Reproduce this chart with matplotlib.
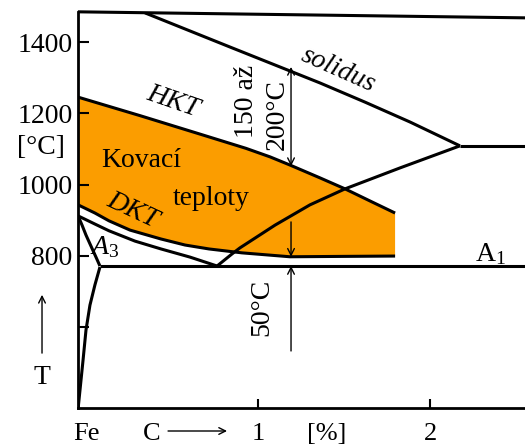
import numpy as np
import matplotlib
matplotlib.use("Agg")
import matplotlib.pyplot as plt

plt.rcParams['font.family'] = ['Liberation Serif', 'DejaVu Serif']
plt.rcParams['mathtext.fontset'] = 'custom'
plt.rcParams['mathtext.rm'] = 'Liberation Serif'
plt.rcParams['mathtext.it'] = 'Liberation Serif:italic'

# ---- data (carbon %, temperature °C) ----
top_x = [-0.047, 2.56]
top_t = [1486, 1469]

solidus_x = [0.343, 0.837, 1.360, 1.622, 1.884, 2.174]
solidus_t = [1483, 1387, 1286, 1232, 1176, 1109]

eutectic_x = [2.174, 2.56]
eutectic_t = [1109, 1109]

acm_x = [2.174, 1.826, 1.506, 1.302, 1.099, 0.895, 0.849, 0.762]
acm_t = [1109, 1047, 988, 943, 886, 822, 805, 771]

a1_x = [0.081, 2.56]
a1_t = [771, 771]

a3_x = [-0.046, -0.023, 0.0, 0.029, 0.058, 0.081]
a3_t = [912, 886, 858, 827, 796, 771]

ferrite_x = [0.081, 0.052, 0.023, 0.0, -0.017, -0.045]
ferrite_t = [768, 718, 661, 591, 507, 374]

hkt_x = [-0.046, 0.314, 0.663, 0.930, 1.070, 1.186, 1.360, 1.506, 1.651, 1.797]
hkt_t = [1246, 1194, 1142, 1102, 1078, 1055, 1019, 988, 954, 920]

dkt_x = [-0.046, 0.052, 0.134, 0.256, 0.436, 0.576, 0.715, 0.907, 1.186, 1.477, 1.797]
dkt_t = [943, 920, 898, 872, 847, 830, 819, 808, 797, 798, 799]

lower_x = [-0.046, 0.052, 0.134, 0.285, 0.436, 0.605, 0.762]
lower_t = [912, 889, 870, 841, 819, 796, 771]

arrow_x = 1.192
range_arrow_t = [1331, 1052]
dkt_arrow_t = [895, 797]
a1_arrow_t = [532, 771]

y_ticks = [600, 800, 1000, 1200, 1400]
y_labels = ['', '800', '1000', '1200', '1400']
x_ticks = [1, 2]
x_labels = ['1', '2']

ORANGE = '#FB9D00'
LW = 2.2

fig = plt.figure(figsize=(5.25, 4.48), dpi=100)
ax = fig.add_axes([78 / 525, 40 / 448, 447 / 525, 396 / 448])
ax.set_xlim(-0.0465, 2.5523)
ax.set_ylim(371.6, 1485.5)

for s in ['top', 'right']:
    ax.spines[s].set_visible(False)
for s in ['left', 'bottom']:
    ax.spines[s].set_linewidth(2.0)

# forging region
poly_x = list(hkt_x) + list(dkt_x[::-1])
poly_t = list(hkt_t) + list(dkt_t[::-1])
ax.fill(poly_x, poly_t, color=ORANGE, lw=0, zorder=1)

kw = dict(color='black', lw=LW, solid_capstyle='butt', solid_joinstyle='round', zorder=3)
ax.plot(top_x, top_t, clip_on=False, **kw)
ax.plot(solidus_x, solidus_t, **kw)
ax.plot(eutectic_x, eutectic_t, clip_on=False, **kw)
ax.plot(acm_x, acm_t, **kw)
ax.plot(a1_x, a1_t, clip_on=False, **kw)
ax.plot(a3_x, a3_t, **kw)
ax.plot(ferrite_x, ferrite_t, **kw)
ax.plot(hkt_x, hkt_t, **kw)
ax.plot(dkt_x, dkt_t, **kw)
ax.plot(lower_x, lower_t, **kw)

ap = dict(arrowstyle='->', lw=1.0, color='black', shrinkA=0, shrinkB=0, mutation_scale=12)
ax.annotate('', xy=(arrow_x, range_arrow_t[0]), xytext=(arrow_x, range_arrow_t[1]),
            arrowprops=dict(ap, arrowstyle='<->'), zorder=4)
ax.annotate('', xy=(arrow_x, dkt_arrow_t[1]), xytext=(arrow_x, dkt_arrow_t[0]),
            arrowprops=ap, zorder=4)
ax.annotate('', xy=(arrow_x, a1_arrow_t[1]), xytext=(arrow_x, a1_arrow_t[0]),
            arrowprops=ap, zorder=4)

FS = 20
ax.text(0.936, 1235, '150 až', rotation=90, fontsize=FS, ha='center', va='center')
ax.text(1.110, 1196, '200°C', rotation=90, fontsize=FS, ha='center', va='center')
ax.text(1.025, 654, '50°C', rotation=90, fontsize=FS, ha='center', va='center')
ax.text(1.465, 1322, 'solidus', rotation=-24, fontsize=FS, style='italic',
        ha='center', va='center', rotation_mode='anchor')
ax.text(0.506, 1232, 'HKT', rotation=-19, fontsize=FS, style='italic',
        ha='center', va='center', rotation_mode='anchor')
ax.text(0.273, 926, 'DKT', rotation=-25, fontsize=FS, style='italic',
        ha='center', va='center', rotation_mode='anchor')
ax.text(0.320, 1069, 'Kovací', fontsize=FS, ha='center', va='center')
ax.text(0.727, 962, 'teploty', fontsize=FS, ha='center', va='center')
ax.text(0.110, 824, '$A_3$', fontsize=FS, ha='center', va='center')
ax.text(2.349, 805, r'$\mathrm{A}_1$', fontsize=FS, ha='center', va='center')

# axis texts
ax.set_yticks(y_ticks)
ax.set_yticklabels(y_labels, fontsize=FS)
ax.set_xticks(x_ticks)
ax.set_xticklabels(x_labels, fontsize=19)
ax.tick_params(axis='y', direction='in', length=8, width=1.5, pad=4)
ax.tick_params(axis='x', direction='in', length=6.5, width=1.5, pad=11)

xt = ax.get_xaxis_transform()
yt = ax.get_yaxis_transform()
YB = (408 - 434) / 396
ax.text(0.0, YB, 'Fe', transform=xt, fontsize=19, ha='center', va='center')
ax.text(0.384, YB, 'C', transform=xt, fontsize=19, ha='center', va='center')
ax.text(1.401, YB, '[%]', transform=xt, fontsize=19, ha='center', va='center')
ax.annotate('', xy=(0.820, (408 - 431) / 396), xytext=(0.477, (408 - 431) / 396),
            xycoords=xt, textcoords=xt, arrowprops=dict(ap, lw=1.0))

ax.text(-0.083, 1103, '[°C]', transform=yt, fontsize=FS, ha='center', va='center')
ax.text(-0.0805, 456, 'T', transform=yt, fontsize=FS, ha='center', va='center')
ax.annotate('', xy=(-0.0805, 690), xytext=(-0.0805, 526), xycoords=yt, textcoords=yt,
            arrowprops=dict(ap, lw=1.0))

fig.savefig('out.png', dpi=100)
